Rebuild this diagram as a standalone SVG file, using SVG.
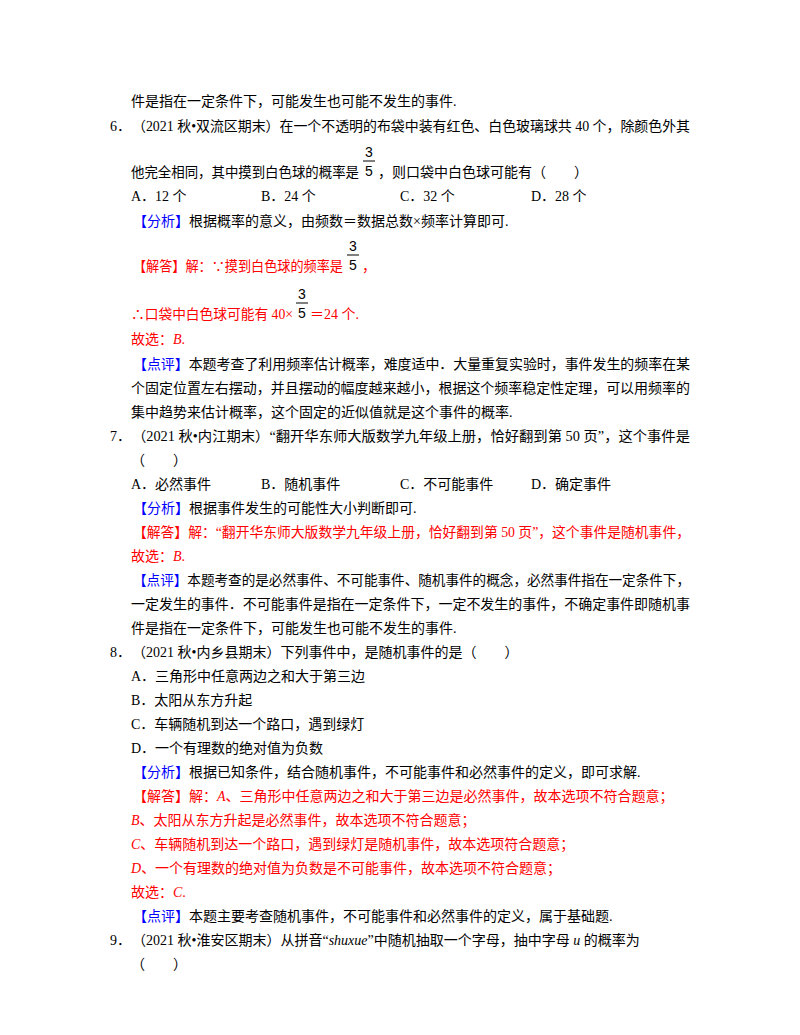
<svg xmlns="http://www.w3.org/2000/svg" width="800" height="1035" viewBox="0 0 800 1035">
<style>
text{font-family:"Liberation Serif","Noto Sans CJK SC",serif;font-size:14px;fill:#000}
.b{fill:#0000ff}.r{fill:#ff0000}.i{font-style:italic}
.f{font-family:"Liberation Sans","Noto Sans CJK SC",sans-serif;font-size:14px}
</style>
<rect width="800" height="1035" fill="#fff"/>
<g id="q6">
<text x="131" y="106">件是指在一定条件下，可能发生也可能不发生的事件.</text>
<text x="110" y="131">6．</text>
<text x="132" y="131" textLength="558" lengthAdjust="spacingAndGlyphs">（2021 秋•双流区期末）在一个不透明的布袋中装有红色、白色玻璃球共 40 个，除颜色外其</text>
<text x="131" y="177" textLength="228" lengthAdjust="spacingAndGlyphs">他完全相同，其中摸到白色球的概率是</text>
<text class="f" x="365" y="157">3</text><line x1="363" y1="161" x2="375" y2="161" stroke="#000"/><text class="f" x="365" y="176">5</text>
<text x="378" y="177">，则口袋中白色球可能有（　　）</text>
<text x="131" y="201">A．12 个</text><text x="261" y="201">B．24 个</text><text x="400" y="201">C．32 个</text><text x="531" y="201">D．28 个</text>
<text x="133" y="226"><tspan class="b">【分析】</tspan>根据概率的意义，由频数＝数据总数×频率计算即可.</text>
<text class="r" x="133" y="271" textLength="210" lengthAdjust="spacingAndGlyphs">【解答】解：∵摸到白色球的频率是</text>
<text class="f" x="349" y="251">3</text><line x1="347" y1="255" x2="359" y2="255" stroke="#000"/><text class="f" x="349" y="270">5</text>
<text class="r" x="362" y="271">，</text>
<text class="r" x="131" y="319" textLength="162" lengthAdjust="spacingAndGlyphs">∴口袋中白色球可能有 40×</text>
<text class="f" x="298" y="299">3</text><line x1="296" y1="303" x2="308" y2="303" stroke="#000"/><text class="f" x="298" y="318">5</text>
<text class="r" x="310" y="319">＝24 个.</text>
<text class="r" x="131" y="344">故选：<tspan class="i">B</tspan>.</text>
<text x="133" y="369" textLength="557" lengthAdjust="spacingAndGlyphs"><tspan class="b">【点评】</tspan>本题考查了利用频率估计概率，难度适中．大量重复实验时，事件发生的频率在某</text>
<text x="131" y="393" textLength="559" lengthAdjust="spacingAndGlyphs">个固定位置左右摆动，并且摆动的幅度越来越小，根据这个频率稳定性定理，可以用频率的</text>
<text x="131" y="417">集中趋势来估计概率，这个固定的近似值就是这个事件的概率.</text>
</g>
<g id="q7">
<text x="110" y="441">7．</text>
<text x="132" y="441" textLength="558" lengthAdjust="spacingAndGlyphs">（2021 秋•内江期末）“翻开华东师大版数学九年级上册，恰好翻到第 50 页”，这个事件是</text>
<text x="131" y="465">（　　）</text>
<text x="131" y="489">A．必然事件</text><text x="261" y="489">B．随机事件</text><text x="400" y="489">C．不可能事件</text><text x="531" y="489">D．确定事件</text>
<text x="133" y="513"><tspan class="b">【分析】</tspan>根据事件发生的可能性大小判断即可.</text>
<text class="r" x="133" y="537" textLength="557" lengthAdjust="spacingAndGlyphs">【解答】解：“翻开华东师大版数学九年级上册，恰好翻到第 50 页”，这个事件是随机事件，</text>
<text class="r" x="131" y="561">故选：<tspan class="i">B</tspan>.</text>
<text x="133" y="585" textLength="557" lengthAdjust="spacingAndGlyphs"><tspan class="b">【点评】</tspan>本题考查的是必然事件、不可能事件、随机事件的概念，必然事件指在一定条件下，</text>
<text x="131" y="609" textLength="559" lengthAdjust="spacingAndGlyphs">一定发生的事件．不可能事件是指在一定条件下，一定不发生的事件，不确定事件即随机事</text>
<text x="131" y="633">件是指在一定条件下，可能发生也可能不发生的事件.</text>
</g>
<g id="q8">
<text x="110" y="657">8．</text>
<text x="132" y="657">（2021 秋•内乡县期末）下列事件中，是随机事件的是（　　）</text>
<text x="131" y="681">A．三角形中任意两边之和大于第三边</text>
<text x="131" y="705">B．太阳从东方升起</text>
<text x="131" y="729">C．车辆随机到达一个路口，遇到绿灯</text>
<text x="131" y="753">D．一个有理数的绝对值为负数</text>
<text x="133" y="777"><tspan class="b">【分析】</tspan>根据已知条件，结合随机事件，不可能事件和必然事件的定义，即可求解.</text>
<text class="r" x="133" y="801">【解答】解：<tspan class="i">A</tspan>、三角形中任意两边之和大于第三边是必然事件，故本选项不符合题意；</text>
<text class="r" x="131" y="825"><tspan class="i">B</tspan>、太阳从东方升起是必然事件，故本选项不符合题意；</text>
<text class="r" x="131" y="849"><tspan class="i">C</tspan>、车辆随机到达一个路口，遇到绿灯是随机事件，故本选项符合题意；</text>
<text class="r" x="131" y="873"><tspan class="i">D</tspan>、一个有理数的绝对值为负数是不可能事件，故本选项不符合题意；</text>
<text class="r" x="131" y="897">故选：<tspan class="i">C</tspan>.</text>
<text x="133" y="921"><tspan class="b">【点评】</tspan>本题主要考查随机事件，不可能事件和必然事件的定义，属于基础题.</text>
</g>
<g id="q9">
<text x="110" y="945">9．</text>
<text x="132" y="945">（2021 秋•淮安区期末）从拼音“<tspan class="i">shuxue</tspan>”中随机抽取一个字母，抽中字母 <tspan class="i">u</tspan> 的概率为</text>
<text x="131" y="969">（　　）</text>
</g>
</svg>
